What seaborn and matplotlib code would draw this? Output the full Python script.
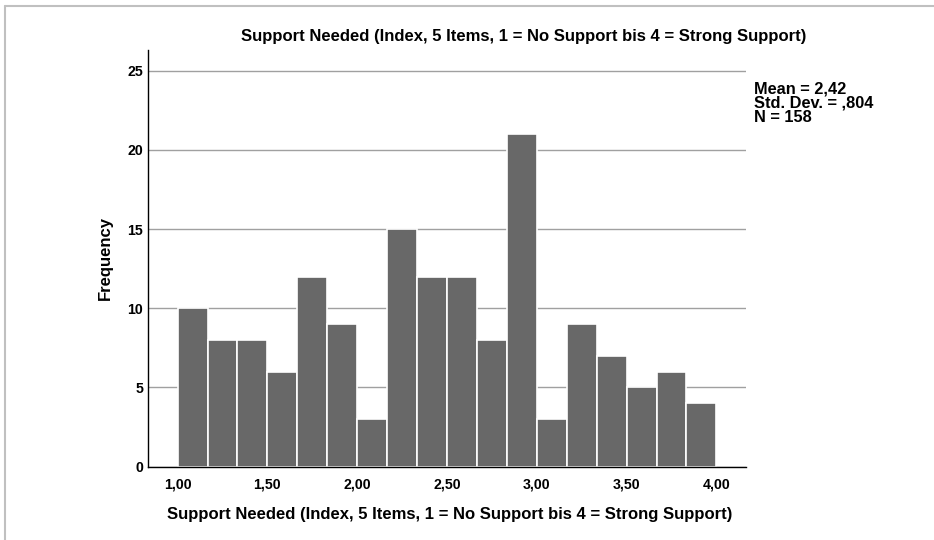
import numpy as np
import pandas as pd
import matplotlib
matplotlib.use("Agg")
import matplotlib.pyplot as plt
import seaborn as sns
from matplotlib.lines import Line2D

bin_edges_start = 1.0
bin_edges_end = 4.0
counts = [10, 8, 8, 6, 12, 9, 3, 15, 12, 12, 8, 21, 3, 9, 7, 5, 6, 4]
x_ticks = [1.0, 1.5, 2.0, 2.5, 3.0, 3.5, 4.0]
x_tick_labels = ["1,00", "1,50", "2,00", "2,50", "3,00", "3,50", "4,00"]
y_ticks = [0, 5, 10, 15, 20, 25]
title = "Support Needed (Index, 5 Items, 1 = No Support bis 4 = Strong Support)"
ylabel = "Frequency"
stats_lines = ["Mean = 2,42", "Std. Dev. = ,804", "N = 158"]

sns.set_theme(style="white")
plt.rcParams["font.family"] = ["Liberation Sans", "DejaVu Sans"]
plt.rcParams["font.weight"] = "bold"

n_bins = len(counts)
edges = np.linspace(bin_edges_start, bin_edges_end, n_bins + 1)
centers = (edges[:-1] + edges[1:]) / 2
df = pd.DataFrame({"value": centers, "count": counts})

fig = plt.figure(figsize=(9.34, 5.40), dpi=100)
ax = fig.add_axes([148/934, 1 - 466.7/540, (746-148)/934, (466.7-50)/540])

sns.histplot(data=df, x="value", weights="count", bins=list(edges), ax=ax,
             color="#686868", edgecolor="white", linewidth=1.2, alpha=1.0)

ax.set_xlim(0.835, 4.165)
ax.set_ylim(0, 26.3)
ax.set_yticks(y_ticks)
ax.set_xticks(x_ticks)
ax.set_xticklabels(x_tick_labels)
ax.yaxis.grid(True, color="#a0a0a0", linewidth=1.0)
ax.xaxis.grid(False)
ax.set_axisbelow(True)
ax.tick_params(axis="both", length=0, labelsize=10.2)
ax.tick_params(axis="y", pad=3.5)
ax.tick_params(axis="x", pad=7.5)
for lab in ax.get_xticklabels() + ax.get_yticklabels():
    lab.set_fontweight("bold")
    lab.set_color("black")

for s in ["top", "right"]:
    ax.spines[s].set_visible(False)
for s in ["left", "bottom"]:
    ax.spines[s].set_color("black")
    ax.spines[s].set_linewidth(1.0)

ax.set_xlabel("")
ax.set_ylabel("")
fig.text(450/934, 1 - 514/540, title, ha="center", va="center",
         fontsize=12, fontweight="bold", color="black")
fig.text(105/934, 1 - 258/540, ylabel, ha="center", va="center",
         rotation=90, fontsize=12, fontweight="bold", color="black")
fig.text(524/934, 1 - 37/540, title, ha="center", va="center",
         fontsize=12, fontweight="bold", color="black")

fig.text(754/934, 1 - 81/540, "\n".join(stats_lines), ha="left", va="top",
         fontsize=11.8, fontweight="bold", color="black", linespacing=0.96)

# light frame on top and left of the figure
fig.add_artist(Line2D([4.5/934, 1], [1 - 5.5/540, 1 - 5.5/540],
                      transform=fig.transFigure, color="#c0c0c0", linewidth=1.5))
fig.add_artist(Line2D([4.5/934, 4.5/934], [0, 1 - 5.5/540],
                      transform=fig.transFigure, color="#c0c0c0", linewidth=1.5))

fig.savefig("out.png", dpi=100)
